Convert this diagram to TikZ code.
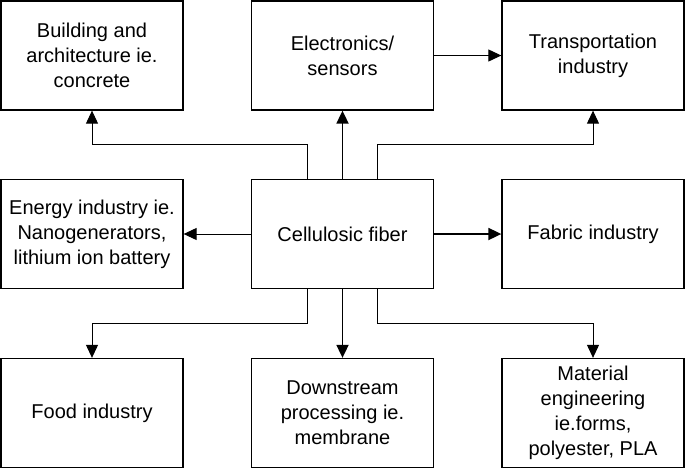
\documentclass[tikz,border=0pt]{standalone}
\usepackage{fontspec}
\setmainfont{Liberation Sans}
\usetikzlibrary{arrows.meta}
\begin{document}
\begin{tikzpicture}[x=1pt,y=-1pt,
  box/.style={draw,line width=1.3pt,minimum width=182pt,minimum height=109pt,inner sep=2pt,align=center,font=\fontsize{20}{25}\selectfont},
  link/.style={line width=1pt,-{Triangle[length=13pt,width=12pt]}},
  mainlink/.style={line width=1.8pt,-{Triangle[length=13pt,width=12pt]}}]
\useasboundingbox (0,0) rectangle (685,469);

\node[box] (build) at (92,55.5) {Building and\\architecture ie.\\concrete};
\node[box] (elec) at (342.5,55.5) {Electronics/\\sensors};
\node[box] (trans) at (593,55.5) {Transportation\\industry};

\node[box] (energy) at (92,234) {Energy industry ie.\\Nanogenerators,\\lithium ion battery};
\node[box] (cell) at (342.5,234) {Cellulosic fiber};
\node[box] (fabric) at (593,234) {Fabric industry};

\node[box] (food) at (92,413) {Food industry};
\node[box] (down) at (342.5,413) {Downstream\\processing ie.\\membrane};
\node[box] (mat) at (593,413) {Material\\engineering\\ie.forms,\\polyester, PLA};

% upwards
\draw[link] ([xshift=-35pt]cell.north) -- ++(0,-34) -| (build.south);
\draw[mainlink] (cell) -- (elec);
\draw[link] ([xshift=35pt]cell.north) -- ++(0,-34) -| (trans.south);
\draw[link] (elec) -- (trans);

% sideways
\draw[link] (cell) -- (energy);
\draw[mainlink] (cell) -- (fabric);

% downwards
\draw[link] ([xshift=-35pt]cell.south) -- ++(0,34) -| (food.north);
\draw[mainlink] (cell) -- (down);
\draw[link] ([xshift=35pt]cell.south) -- ++(0,34) -| (mat.north);
\end{tikzpicture}
\end{document}
